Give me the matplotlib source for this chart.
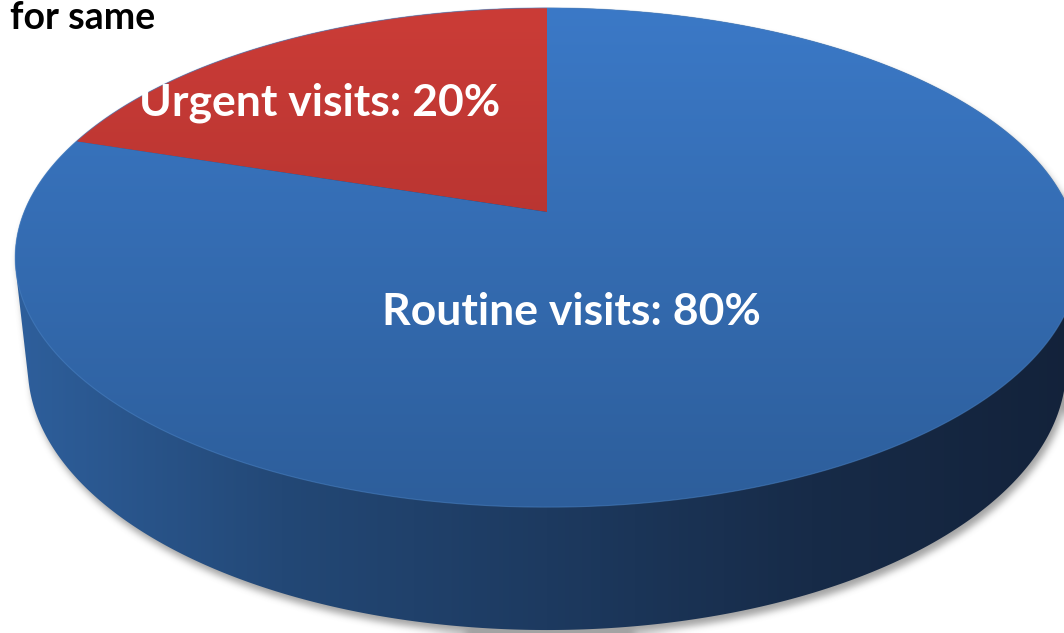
import numpy as np
import matplotlib
matplotlib.use('Agg')
import matplotlib.pyplot as plt
from matplotlib.patches import Polygon
from matplotlib.colors import to_rgb
from matplotlib.path import Path

# ---- data ----
labels = ['Urgent visits', 'Routine visits']
shares = [20, 80]
title_tail = 'for same'

# ---- style ----
top_colors = [('#cb3c37', '#a22c2a'), ('#3b79c7', '#2d5e9b')]
side_colors = ['#2e5f9c', '#234876', '#1d3a60', '#172b48', '#13223a']
label_pos = [(320, 103), (571, 312)]
FONT = ['Lato', 'DejaVu Sans']

W, H = 1064, 633
fig = plt.figure(figsize=(W / 100, H / 100), dpi=100)
fig.patch.set_facecolor('white')
ax = fig.add_axes([0, 0, 1, 1])
ax.set_xlim(0, W)
ax.set_ylim(H, 0)
ax.axis('off')

# perspective projection of a unit disc
elev = np.deg2rad(28)
D = 4.84
KX, KY = 2531, 2488
CX, CY = 547, 212
TH = 0.243
s_e, c_e = np.sin(elev), np.cos(elev)


def proj(x, y, z):
    vy = y + D * c_e
    vz = z - D * s_e
    depth = vy * c_e - vz * s_e
    up = vy * s_e + vz * c_e
    return CX + KX * x / depth, CY - KY * up / depth


def hull(pts):
    pts = sorted(map(tuple, pts))
    def cross(o, a, b):
        return (a[0]-o[0])*(b[1]-o[1]) - (a[1]-o[1])*(b[0]-o[0])
    lower, upper = [], []
    for p in pts:
        while len(lower) >= 2 and cross(lower[-2], lower[-1], p) <= 0:
            lower.pop()
        lower.append(p)
    for p in reversed(pts):
        while len(upper) >= 2 and cross(upper[-2], upper[-1], p) <= 0:
            upper.pop()
        upper.append(p)
    return np.array(lower[:-1] + upper[:-1])


def grad_image(stops, horizontal):
    n = 256
    t = np.linspace(0, 1, n)
    cols = np.array([to_rgb(c) for c in stops])
    pos = np.linspace(0, 1, len(stops))
    arr = np.stack([np.interp(t, pos, cols[:, k]) for k in range(3)], axis=-1)
    if horizontal:
        return arr[None, :, :].repeat(2, axis=0)
    return arr[:, None, :].repeat(2, axis=1)


tt = np.deg2rad(np.linspace(0, 360, 721))
tx, ty = proj(np.cos(tt), np.sin(tt), 0 * tt)
bx, by = proj(np.cos(tt), np.sin(tt), 0 * tt - TH)
hpts = hull(np.column_stack([np.r_[tx, bx], np.r_[ty, by]]))

# soft shadow
gx, gy = np.meshgrid(np.arange(W) + 0.5, np.arange(H) + 0.5)
mask = Path(hpts + np.array([3, 6])).contains_points(
    np.column_stack([gx.ravel(), gy.ravel()])).reshape(H, W).astype(float)


def box_blur(a, r, axis):
    c = np.cumsum(np.pad(a, [(r + 1, r) if i == axis else (0, 0) for i in range(2)], mode='edge'), axis=axis)
    if axis == 0:
        return (c[2 * r + 1:] - c[:-2 * r - 1]) / (2 * r + 1)
    return (c[:, 2 * r + 1:] - c[:, :-2 * r - 1]) / (2 * r + 1)


for _ in range(3):
    mask = box_blur(box_blur(mask, 3, 0), 3, 1)
shadow = np.zeros((H, W, 4))
shadow[..., :3] = 0.45
shadow[..., 3] = mask * 0.65
ax.imshow(shadow, extent=(0, W, H, 0), zorder=1, interpolation='bilinear')

# side wall
side_patch = Polygon(hpts, closed=True, facecolor='none', edgecolor='none')
ax.add_patch(side_patch)
x0, x1 = hpts[:, 0].min(), hpts[:, 0].max()
im = ax.imshow(grad_image(side_colors, True), extent=(x0, x1, H, 0),
               zorder=2, interpolation='bilinear', aspect='auto')
im.set_clip_path(side_patch)

# top faces
y_top, y_bot = ty.min(), ty.max()
start = 90.0
total = float(sum(shares))
for i, sh in enumerate(shares):
    a = np.deg2rad(np.linspace(start, start + 360 * sh / total, 400))
    start += 360 * sh / total
    px, py = proj(np.cos(a), np.sin(a), 0 * a)
    cx0, cy0 = proj(0.0, 0.0, 0.0)
    poly = np.column_stack([np.r_[cx0, px], np.r_[cy0, py]])
    patch = Polygon(poly, closed=True, facecolor='none', edgecolor='none')
    ax.add_patch(patch)
    im = ax.imshow(grad_image(top_colors[i], False), extent=(0, W, y_bot, y_top),
                   zorder=3, interpolation='bilinear', aspect='auto')
    im.set_clip_path(patch)

# rim highlight
ax.plot(tx, ty, color='#4d86c8', lw=0.8, alpha=0.5, zorder=4)

ax.set_xlim(0, W)
ax.set_ylim(H, 0)

for (lx, ly), lab, sh in zip(label_pos, labels, shares):
    ax.text(lx, ly, f'{lab}: {sh}%', color='white', fontsize=32, fontweight='bold',
            family=FONT, ha='center', va='center', zorder=6)

ax.text(10, 29, title_tail, color='black', fontsize=27, fontweight='bold',
        family=FONT, ha='left', va='baseline', zorder=6)

fig.savefig('out.png', dpi=100, facecolor='white')
